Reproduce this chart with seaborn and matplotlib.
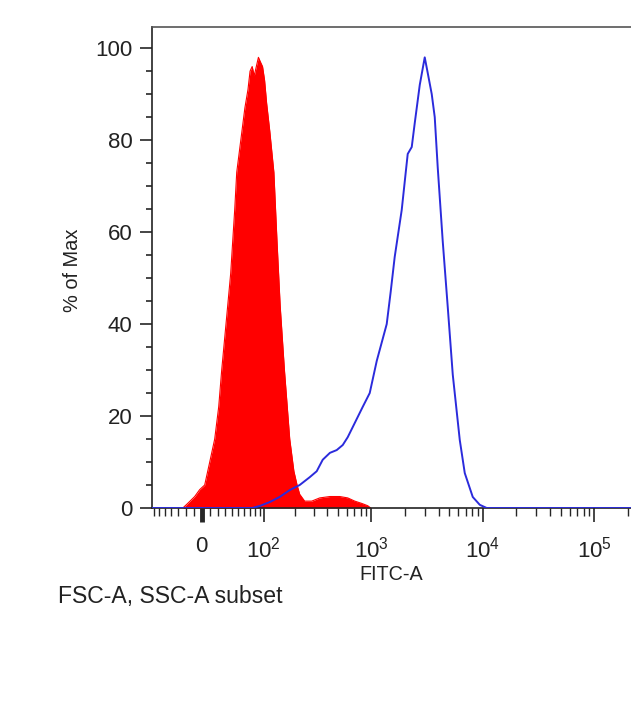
import numpy as np
import pandas as pd
import seaborn as sns
import matplotlib.pyplot as plt
from matplotlib.ticker import FixedLocator, NullFormatter

# isotype / unstained control (red, filled)
ctrl_x = [-24, -17.6, -8.7, -2.5, 3.7, 10, 16.3, 21.5, 25.5, 29.6, 33.8, 38.1, 41.1, 44.2, 47.3,
          53.9, 60.9, 66.5, 70.4, 74.5, 78.7, 83, 87.5, 92, 96.9, 101.8, 106.9, 115, 126.5,
          135.8, 145.8, 160.3, 180, 197, 211, 223, 248, 288, 341, 422, 518, 611, 707, 817, 925, 984]
ctrl_pct = [0, 1, 2.5, 4, 5, 10, 15, 22, 30, 37, 44, 51, 58, 65, 73,
            80, 87, 91, 95, 96, 94, 96, 98, 97, 96, 93, 88, 82, 73,
            58, 44, 30, 15, 8, 5, 3, 1.5, 1.5, 2.2, 2.5, 2.5, 2.2, 1.5, 1, 0.5, 0]

# stained sample (blue line)
stain_x = [-80, 74.5, 92, 115, 144, 180, 223, 276, 320, 363, 422, 486, 551, 611, 678, 752, 834,
           964, 1026, 1115, 1236, 1370, 1487, 1616, 1868, 2030, 2115, 2298, 2445, 2712, 3006,
           3198, 3474, 3696, 3933, 4360, 4836, 5364, 6198, 6873, 8108, 9370, 10818, 262144]
stain_pct = [0, 0, 0.5, 1.3, 2.4, 3.9, 5, 6.7, 8, 10.5, 12, 12.6, 13.7, 15.4, 17.6, 19.8, 22,
             25, 28, 32, 36, 40, 47, 54.6, 64.8, 73, 77, 78.5, 83.7, 92, 98,
             94.6, 90, 85, 74, 58, 43.7, 29, 14.8, 7.6, 2.4, 0.7, 0, 0]

x_major = [0, 100, 1000, 10000, 100000]
x_labels = ["0", r"$\mathregular{10^{2}}$", r"$\mathregular{10^{3}}$",
            r"$\mathregular{10^{4}}$", r"$\mathregular{10^{5}}$"]

sns.set_style("ticks")
plt.rcParams["font.family"] = ["Liberation Sans", "DejaVu Sans"]
plt.rcParams["mathtext.fontset"] = "custom"
plt.rcParams["mathtext.rm"] = "Liberation Sans"
txt = "#222222"

ctrl = pd.DataFrame({"FITC-A": ctrl_x, "pct": ctrl_pct})
stain = pd.DataFrame({"FITC-A": stain_x, "pct": stain_pct})

fig = plt.figure(figsize=(6.31, 7.05), dpi=100)
ax = fig.add_axes([0.2409, 0.2794, 0.775, 0.6823])
ax.set_xscale("asinh", linear_width=60)

ax.fill_between(ctrl["FITC-A"], ctrl["pct"], color="#ff0000", lw=0, zorder=2)
sns.lineplot(data=ctrl, x="FITC-A", y="pct", color="#ff0000", lw=0.8, ax=ax, sort=False, zorder=2)
sns.lineplot(data=stain, x="FITC-A", y="pct", color="#2b2bdc", lw=1.4, ax=ax, sort=False, zorder=3)

ax.set_xlim(-73, 262144)
ax.set_ylim(0, 104.6)

ax.xaxis.set_major_locator(FixedLocator(x_major))
ax.set_xticklabels(x_labels, fontsize=16, color=txt)
minors = [-v for v in range(10, 100, 10)] + list(range(10, 100, 10))
for d in [100, 1000, 10000]:
    minors += [d * k for k in range(2, 10)]
minors += [200000]
ax.xaxis.set_minor_locator(FixedLocator(minors))
ax.xaxis.set_minor_formatter(NullFormatter())

ax.set_yticks(range(0, 101, 20))
ax.set_yticks(range(0, 101, 5), minor=True)
ax.tick_params(axis="y", labelsize=16, labelcolor=txt, length=9, width=1.2, pad=5)
ax.tick_params(axis="y", which="minor", length=4, width=1.2)
ax.tick_params(axis="x", length=10, width=1.2, pad=10.5)
ax.tick_params(axis="x", which="minor", length=6, width=1.0)
ax.xaxis.get_major_ticks()[0].tick1line.set_markeredgewidth(3.5)

for side in ["left", "bottom", "top"]:
    ax.spines[side].set_visible(True)
    ax.spines[side].set_linewidth(1.2)
    ax.spines[side].set_color("#222222")
ax.spines["top"].set_color("#555555")
ax.spines["right"].set_visible(False)

ax.set_xlabel("")
ax.set_ylabel("")
fig.text(72 / 631, 1 - 270 / 705, "% of Max", fontsize=14.4, color=txt,
         rotation=90, ha="center", va="center")
fig.text(391 / 631, 1 - 575 / 705, "FITC-A", fontsize=14.2, color=txt, ha="center", va="center")
fig.text(58 / 631, 1 - 596 / 705, "FSC-A, SSC-A subset", fontsize=16.6, color=txt,
         ha="left", va="center")

fig.savefig("out.png", dpi=100)
